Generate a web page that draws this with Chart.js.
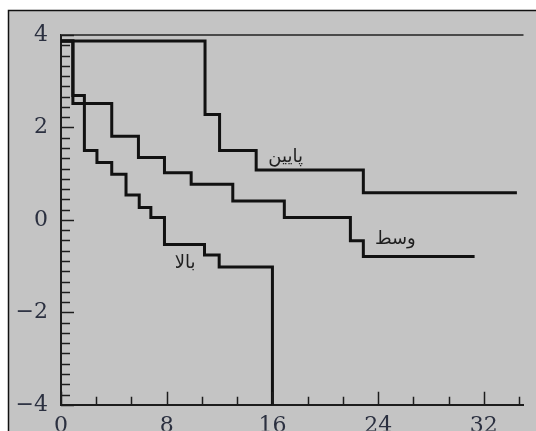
<!DOCTYPE html>
<html>
<head>
<meta charset="utf-8">
<script src="https://cdn.jsdelivr.net/npm/chart.js@4/dist/chart.umd.min.js"></script>
<style>
  html, body { margin: 0; padding: 0; background: #ffffff; }
  canvas { display: block; }
</style>
</head>
<body>
<canvas id="c" width="536" height="431"></canvas>
<script>
// Step curves: x positions where each level begins, and the level values
const balaX = [0, 0.9, 1.77, 2.72, 3.84, 4.92, 5.92, 6.8, 7.83, 10.86, 11.97, 16.0];
const balaY = [3.87, 2.69, 1.50, 1.24, 0.99, 0.54, 0.27, 0.05, -0.53, -0.76, -1.02, -4.0];

const vasatX = [0, 0.9, 3.84, 5.86, 7.83, 9.85, 13.0, 16.9, 21.9, 22.88, 31.3];
const vasatY = [3.87, 2.52, 1.81, 1.35, 1.02, 0.77, 0.41, 0.05, -0.45, -0.79, -0.79];

const payinX = [0, 10.9, 12.0, 14.77, 22.88, 34.5];
const payinY = [3.87, 2.28, 1.50, 1.08, 0.59, 0.59];

// Upper reference line
const refX = [0, 35];
const refY = [4, 4];

// Axis ticks
const xMajorTicks = [0, 8, 16, 24, 32];
const xMinorPerMajor = 3;   // ticks every 8/3
const yMajorTicks = [-4, -2, 0, 2, 4];
const yMinorPerMajor = 9;   // ticks every 2/9

// Curve names and where they are written (data coordinates)
const curveNames = ['پایین', 'وسط', 'بالا'];
const nameX = [17.0, 25.3, 9.4];
const nameY = [1.36, -0.43, -0.95];

function pts(xs, ys) { return xs.map((x, i) => ({ x: x, y: ys[i] })); }

function tickValues(majors, perMajor, max) {
  const span = majors[1] - majors[0];
  const step = span / perMajor;
  const out = [];
  for (let k = 0; ; k++) {
    const v = majors[0] + k * step;
    if (v > max + 1e-9) break;
    const r = (v - majors[0]) / span;
    out.push({ value: v, major: Math.abs(r - Math.round(r)) < 1e-6 });
  }
  return out;
}

const AXIS_COLOR = '#1c1c1c';
const LABEL_COLOR = '#2b3040';
const TICK_FONT = { family: 'DejaVu Serif', size: 22 };

const framePlugin = {
  id: 'frame',
  beforeDraw(chart) {
    const ctx = chart.ctx;
    ctx.save();
    ctx.fillStyle = '#ffffff';
    ctx.fillRect(0, 0, chart.width, chart.height);
    ctx.fillStyle = '#c4c4c4';
    ctx.fillRect(8, 10, chart.width - 8, chart.height - 10);
    ctx.strokeStyle = '#111111';
    ctx.lineWidth = 1.5;
    ctx.beginPath();
    ctx.moveTo(8.5, chart.height);
    ctx.lineTo(8.5, 10.5);
    ctx.lineTo(chart.width, 10.5);
    ctx.stroke();
    ctx.restore();
  }
};

const tickMarkPlugin = {
  id: 'tickMarks',
  afterDraw(chart) {
    const ctx = chart.ctx;
    const xs = chart.scales.x, ys = chart.scales.y;
    const area = chart.chartArea;
    ctx.save();
    ctx.strokeStyle = AXIS_COLOR;
    ctx.lineWidth = 1.5;
    ctx.beginPath();
    xs.ticks.forEach(t => {
      const px = Math.round(xs.getPixelForValue(t.value)) + 0.5;
      const len = t.major ? 13 : 8;
      ctx.moveTo(px, area.bottom);
      ctx.lineTo(px, area.bottom - len);
    });
    ys.ticks.forEach(t => {
      const py = Math.round(ys.getPixelForValue(t.value)) + 0.5;
      const len = t.major ? 13 : 9;
      ctx.moveTo(area.left, py);
      ctx.lineTo(area.left + len, py);
    });
    ctx.stroke();

    // curve names
    ctx.fillStyle = '#1e1e1e';
    ctx.font = '18px "DejaVu Sans"';
    ctx.textAlign = 'center';
    ctx.textBaseline = 'middle';
    ctx.direction = 'rtl';
    curveNames.forEach((name, i) => {
      ctx.fillText(name, xs.getPixelForValue(nameX[i]), ys.getPixelForValue(nameY[i]));
    });
    ctx.restore();
  }
};

const stepLine = (xs, ys) => ({
  data: pts(xs, ys),
  stepped: 'before',
  borderColor: '#111111',
  borderWidth: 3,
  pointRadius: 0,
  fill: false,
  clip: false
});

new Chart(document.getElementById('c'), {
  type: 'line',
  data: {
    datasets: [
      { data: pts(refX, refY), borderColor: '#4a4a4a', borderWidth: 2, pointRadius: 0, fill: false, clip: false },
      stepLine(payinX, payinY),
      stepLine(vasatX, vasatY),
      stepLine(balaX, balaY)
    ]
  },
  options: {
    responsive: false,
    animation: false,
    devicePixelRatio: 1,
    layout: { padding: { top: 35, right: 12.5, left: 0, bottom: 0 } },
    plugins: { legend: { display: false }, tooltip: { enabled: false } },
    scales: {
      x: {
        type: 'linear',
        min: 0,
        max: 35,
        afterFit(s) { s.height = 26; },
        afterBuildTicks(s) { s.ticks = tickValues(xMajorTicks, xMinorPerMajor, 35); },
        grid: { display: false, drawTicks: false },
        border: { display: true, color: AXIS_COLOR, width: 2 },
        ticks: {
          autoSkip: false,
          maxRotation: 0,
          padding: 8,
          color: LABEL_COLOR,
          font: TICK_FONT,
          callback(v, i, ticks) { return ticks[i].major ? String(Math.round(v)) : ''; }
        }
      },
      y: {
        type: 'linear',
        min: -4,
        max: 4,
        afterFit(s) { s.width = 61; },
        afterBuildTicks(s) { s.ticks = tickValues(yMajorTicks, yMinorPerMajor, 4); },
        grid: { display: false, drawTicks: false },
        border: { display: true, color: AXIS_COLOR, width: 2 },
        ticks: {
          autoSkip: false,
          padding: 13,
          color: LABEL_COLOR,
          font: TICK_FONT,
          callback(v, i, ticks) {
            if (!ticks[i].major) return '';
            const n = Math.round(v);
            return n < 0 ? '\u2212' + Math.abs(n) : String(n);
          }
        }
      }
    }
  },
  plugins: [framePlugin, tickMarkPlugin]
});
</script>
</body>
</html>
